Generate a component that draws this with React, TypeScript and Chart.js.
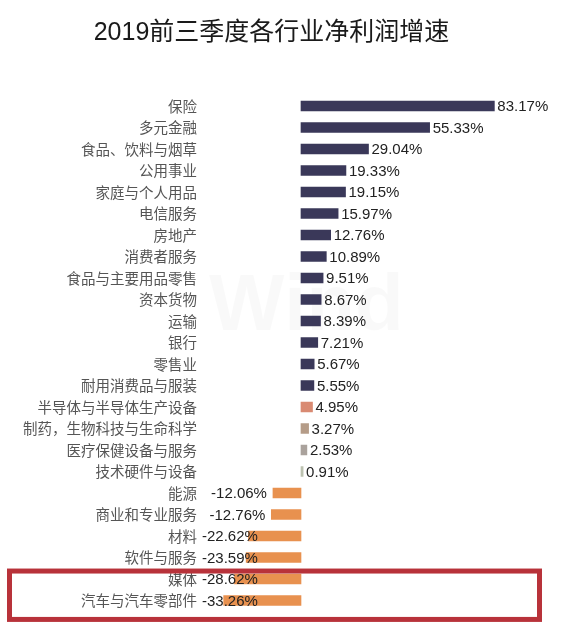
import React, { useEffect, useRef } from "react";
import { Chart, registerables } from "chart.js";

Chart.register(...registerables);

const TITLE = "2019前三季度各行业净利润增速";

const categories = [
  "保险",
  "多元金融",
  "食品、饮料与烟草",
  "公用事业",
  "家庭与个人用品",
  "电信服务",
  "房地产",
  "消费者服务",
  "食品与主要用品零售",
  "资本货物",
  "运输",
  "银行",
  "零售业",
  "耐用消费品与服装",
  "半导体与半导体生产设备",
  "制药，生物科技与生命科学",
  "医疗保健设备与服务",
  "技术硬件与设备",
  "能源",
  "商业和专业服务",
  "材料",
  "软件与服务",
  "媒体",
  "汽车与汽车零部件",
];

const values = [
  83.17, 55.33, 29.04, 19.33, 19.15, 15.97, 12.76, 10.89, 9.51, 8.67, 8.39, 7.21,
  5.67, 5.55, 4.95, 3.27, 2.53, 0.91, -12.06, -12.76, -22.62, -23.59, -28.62, -33.26,
];

const NAVY = "#3a3859";
const ORANGE = "#e8914f";
const barColors = [
  NAVY, NAVY, NAVY, NAVY, NAVY, NAVY, NAVY, NAVY, NAVY, NAVY, NAVY, NAVY, NAVY, NAVY,
  "#d98a72", "#b59c88", "#aaa29c", "#bcc2b0",
  ORANGE, ORANGE, ORANGE, ORANGE, ORANGE, ORANGE,
];

// categories enclosed by the red highlight box
const highlighted = ["媒体", "汽车与汽车零部件"];

const watermarkPlugin = {
  id: "watermark",
  beforeDatasetsDraw(chart: any) {
    const { ctx, chartArea } = chart;
    ctx.save();
    ctx.font = "bold 80px 'Liberation Sans', Arial, sans-serif";
    ctx.fillStyle = "rgba(0,0,0,0.022)";
    ctx.textAlign = "center";
    ctx.textBaseline = "middle";
    const cx = (chartArea.left + chartArea.right) / 2 - 65;
    const cy = (chartArea.top + chartArea.bottom) / 2 - 45;
    ctx.fillText("Wind", cx, cy);
    ctx.restore();
  },
};

const valueLabelPlugin = {
  id: "valueLabels",
  afterDatasetsDraw(chart: any) {
    const { ctx, chartArea } = chart;
    const meta = chart.getDatasetMeta(0);
    const xs = chart.scales.x;
    ctx.save();
    ctx.font = "15px 'Liberation Sans', Arial, sans-serif";
    ctx.fillStyle = "#222";
    ctx.textBaseline = "middle";
    meta.data.forEach((bar: any, i: number) => {
      const v = values[i];
      const text = v.toFixed(2) + "%";
      const zero = xs.getPixelForValue(0);
      if (v >= 0) {
        ctx.textAlign = "left";
        ctx.fillText(text, Math.max(bar.x, zero) + 3, bar.y + 1);
      } else {
        const w = ctx.measureText(text).width;
        let right = bar.x - 6;
        if (right - w < chartArea.left + 2) right = chartArea.left + 2 + w;
        ctx.textAlign = "right";
        ctx.fillText(text, right, bar.y + 1);
      }
    });
    ctx.restore();
  },
};

const highlightPlugin = {
  id: "highlightBox",
  afterDraw(chart: any) {
    const { ctx } = chart;
    const ys = chart.scales.y;
    const idxs = highlighted.map((c) => categories.indexOf(c));
    const row = (ys.bottom - ys.top) / categories.length;
    const top = ys.getPixelForValue(Math.min(...idxs)) - row * 0.37;
    const bottom = ys.getPixelForValue(Math.max(...idxs)) + row * 0.88;
    ctx.save();
    ctx.strokeStyle = "#b8323a";
    ctx.lineWidth = 5;
    ctx.strokeRect(9.5, top, 530, bottom - top);
    ctx.restore();
  },
};

export default function App() {
  const ref = useRef<HTMLCanvasElement>(null);

  useEffect(() => {
    if (!ref.current) return;
    const chart = new Chart(ref.current, {
      type: "bar",
      data: {
        labels: categories,
        datasets: [
          {
            data: values,
            backgroundColor: barColors,
            borderWidth: 0,
            barThickness: 10,
          },
        ],
      },
      options: {
        indexAxis: "y",
        responsive: false,
        maintainAspectRatio: false,
        animation: false,
        layout: { padding: { left: 0, right: 23, top: 0, bottom: 14.75 } },
        plugins: {
          legend: { display: false },
          tooltip: { enabled: false },
          title: {
            display: true,
            text: TITLE,
            color: "#1a1a1a",
            font: {
              family: "'Liberation Sans', 'Noto Sans CJK SC', sans-serif",
              size: 25,
              weight: "normal",
              lineHeight: 1.2,
            },
            padding: { top: 18, bottom: 47.25 },
          },
        },
        scales: {
          x: {
            display: false,
            min: -43.44,
            max: 104.09,
          },
          y: {
            grid: { display: false, drawTicks: false },
            border: { display: false },
            afterFit(scale: any) {
              scale.width = 200;
            },
            ticks: {
              padding: 3,
              color: "#555",
              autoSkip: false,
              font: { family: "'Noto Sans CJK SC', sans-serif", size: 14.5 },
            },
          },
        },
      },
      plugins: [watermarkPlugin, valueLabelPlugin, highlightPlugin],
    });
    return () => chart.destroy();
  }, []);

  return (
    <div style={{ position: "fixed", left: 0, top: 0, width: 566, height: 626, background: "#fff" }}>
      <canvas ref={ref} width={566} height={626} style={{ width: 566, height: 626, display: "block" }} />
    </div>
  );
}
